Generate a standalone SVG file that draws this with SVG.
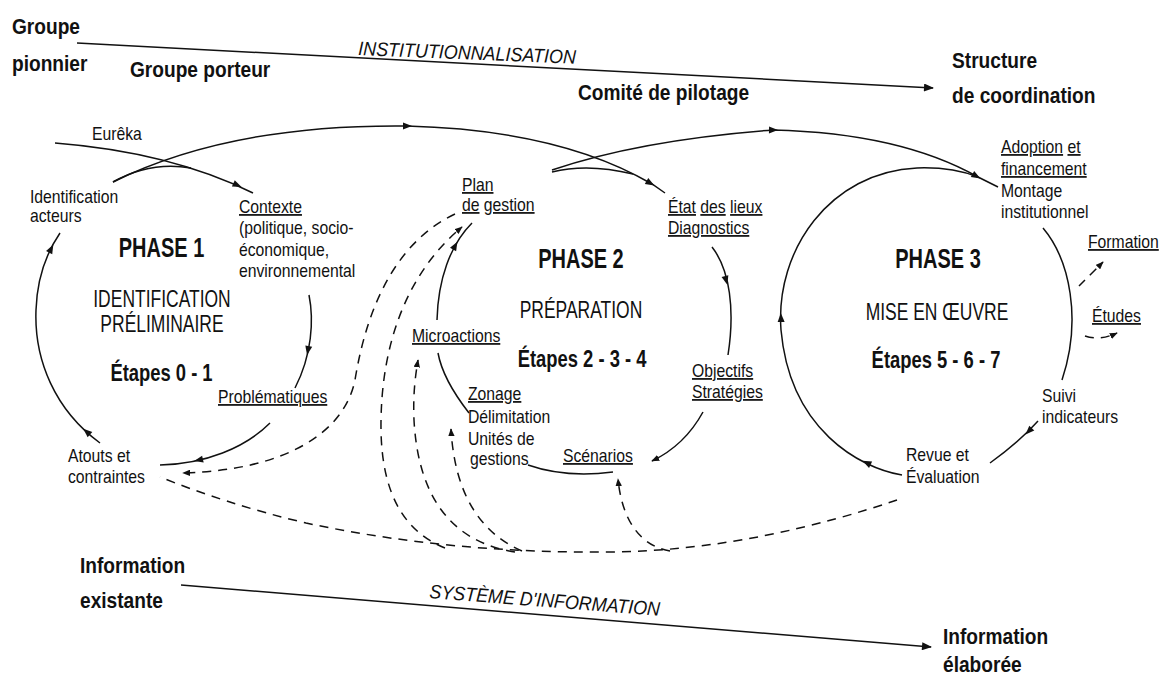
<svg xmlns="http://www.w3.org/2000/svg" width="1161" height="680" viewBox="0 0 1161 680">
<defs>
<style>
text{font-family:"Liberation Sans",Arial,sans-serif;fill:#111}
.b{font-weight:bold;font-size:22px;transform-box:fill-box;transform-origin:0 0;transform:scaleX(0.87)}
.s{font-size:17.5px;transform-box:fill-box;transform-origin:0 0;transform:scaleX(0.9)}
.i{font-style:italic;font-size:19.5px}
.u{text-decoration:underline}
.ph{font-weight:bold;font-size:27px;text-anchor:middle;transform-box:fill-box;transform-origin:50% 0;transform:scaleX(0.74)}
.sub{font-size:23px;text-anchor:middle;transform-box:fill-box;transform-origin:50% 0;transform:scaleX(0.76)}
.et{font-weight:bold;font-size:23px;text-anchor:middle;transform-box:fill-box;transform-origin:50% 0;transform:scaleX(0.8)}
.ln{fill:none;stroke:#111;stroke-width:1.5}
.da{fill:none;stroke:#111;stroke-width:1.5;stroke-dasharray:9 7}
</style>
<marker id="big" viewBox="0 0 10 8" refX="9" refY="4" markerWidth="11" markerHeight="8" orient="auto" markerUnits="userSpaceOnUse"><path d="M0,0 L10,4 L0,8 Z" fill="#111"/></marker>
<marker id="sm" viewBox="0 0 10 8" refX="9" refY="4" markerWidth="8" markerHeight="6.5" orient="auto" markerUnits="userSpaceOnUse"><path d="M0,0 L10,4 L0,8 Z" fill="#111"/></marker>
<path id="ah" d="M5,0 L-4,-3.5 L-4,3.5 Z" fill="#111"/>
</defs>
<rect width="1161" height="680" fill="#fff"/>

<g id="connectors">
<path class="ln" d="M77,43 L933,88" marker-end="url(#big)"/>
<path class="ln" d="M181,585 L931,647" marker-end="url(#big)"/>
<path class="ln" d="M55,143 Q170,152 253,193"/>
<path class="ln" d="M113,182 Q230,124 407,126 Q560,130 652,184 L665,193"/>
<path class="ln" d="M113,182 Q150,161 191,168"/>
<path class="ln" d="M552,170 Q640,140 773,130 Q900,133 978,177 L998,187"/>
<path class="ln" d="M552,172 Q588,163 633,174"/>
<path class="ln" d="M100,443 C55,410 34,360 36,310 C37,280 45,255 60,233"/>
<path class="ln" d="M309,295 C314,320 312,355 295,388"/>
<path class="ln" d="M270,423 C245,448 205,464 160,465"/>
<path class="ln" d="M712,247 C730,270 735,310 728,355"/>
<path class="ln" d="M703,412 C692,432 675,450 652,461" marker-end="url(#sm)"/>
<path class="ln" d="M528,465 Q565,478 613,472"/>
<path class="ln" d="M469,413 C455,395 442,375 438,353"/>
<path class="ln" d="M437,320 C438,280 450,245 472,223"/>
<path class="ln" d="M902,475 C860,468 790,430 781,330 C775,250 830,172 917,168 C945,167 965,172 978,177"/>
<path class="ln" d="M1043,228 C1070,260 1082,320 1062,380"/>
<path class="ln" d="M1038,421 C1030,430 1015,445 990,463"/>
<path class="da" d="M897,500 C820,526 720,551 610,552 C500,553 400,543 306,523 C250,510 200,493 160,477"/>
<path class="da" d="M670,551 C640,546 622,520 618,479" marker-end="url(#sm)"/>
<path class="da" d="M522,551 C485,535 455,500 451,429" marker-end="url(#sm)"/>
<path class="da" d="M515,552 C450,542 418,495 414,420 C413,395 415,378 418,360" marker-end="url(#sm)"/>
<path class="da" d="M445,548 C405,532 382,495 381,430 C380,340 410,270 462,227" marker-end="url(#sm)"/>
<path class="da" d="M455,214 C400,240 368,300 355,380 C345,430 290,470 183,473" marker-end="url(#sm)"/>
<path class="da" d="M1079,286 Q1090,275 1103,262" marker-end="url(#sm)"/>
<path class="da" d="M1085,336 Q1100,341 1117,333" marker-end="url(#sm)"/>
<use href="#ah" transform="translate(407,126) rotate(0.5)"/>
<use href="#ah" transform="translate(650,183) rotate(30)"/>
<use href="#ah" transform="translate(773,130) rotate(1)"/>
<use href="#ah" transform="translate(976,176) rotate(29)"/>
<use href="#ah" transform="translate(237,185) rotate(24)"/>
<use href="#ah" transform="translate(51,249) rotate(-62)"/>
<use href="#ah" transform="translate(87,432) rotate(-138)"/>
<use href="#ah" transform="translate(308,350) rotate(101)"/>
<use href="#ah" transform="translate(199,460) rotate(167)"/>
<use href="#ah" transform="translate(726,280) rotate(75)"/>
<use href="#ah" transform="translate(455,246) rotate(-61)"/>
<use href="#ah" transform="translate(781,318) rotate(-92)"/>
<use href="#ah" transform="translate(867,463) rotate(-154)"/>
<use href="#ah" transform="translate(1029,431) rotate(134)"/>
</g>

<g id="groupe-pionnier"><text class="b" x="12" y="34">Groupe</text><text class="b" x="12" y="71">pionnier</text></g>
<g id="groupe-porteur"><text class="b" x="130" y="77">Groupe porteur</text></g>
<g id="institutionnalisation"><text class="i" transform="translate(358,55) rotate(2.3) scale(0.92,1)">INSTITUTIONNALISATION</text></g>
<g id="comite-pilotage"><text class="b" x="578" y="100">Comité de pilotage</text></g>
<g id="structure-coordination"><text class="b" x="952" y="68">Structure</text><text class="b" x="952" y="103">de coordination</text></g>

<g id="eureka"><text class="s" x="92" y="140">Eurêka</text></g>
<g id="identification-acteurs"><text class="s" x="30" y="203">Identification</text><text class="s" x="30" y="222">acteurs</text></g>
<g id="contexte"><text class="s" x="239" y="213"><tspan class="u">Contexte</tspan></text><text class="s" x="239" y="234">(politique, socio-</text><text class="s" x="239" y="256">économique,</text><text class="s" x="239" y="277">environnemental</text></g>
<g id="phase1">
<text class="ph" x="161.5" y="257">PHASE 1</text>
<text class="sub" x="162" y="307">IDENTIFICATION</text>
<text class="sub" x="162" y="332">PRÉLIMINAIRE</text>
<text class="et" x="161.5" y="381">Étapes 0 - 1</text>
</g>
<g id="problematiques"><text class="s" x="218" y="403"><tspan class="u">Problématiques</tspan></text></g>
<g id="atouts-contraintes"><text class="s" x="68" y="462">Atouts et</text><text class="s" x="68" y="483">contraintes</text></g>

<g id="plan-gestion"><text class="s" x="462" y="191"><tspan class="u">Plan</tspan></text><text class="s" x="462" y="211"><tspan class="u">de</tspan> <tspan class="u">gestion</tspan></text></g>
<g id="etat-lieux"><text class="s" x="668" y="213"><tspan class="u">État</tspan> <tspan class="u">des</tspan> <tspan class="u">lieux</tspan></text><text class="s" x="668" y="234"><tspan class="u">Diagnostics</tspan></text></g>
<g id="phase2">
<text class="ph" x="581" y="268">PHASE 2</text>
<text class="sub" x="581" y="318">PRÉPARATION</text>
<text class="et" x="582" y="367">Étapes 2 - 3 - 4</text>
</g>
<g id="microactions"><text class="s" x="412" y="342"><tspan class="u">Microactions</tspan></text></g>
<g id="zonage"><text class="s" x="468" y="400"><tspan class="u">Zonage</tspan></text><text class="s" x="468" y="423">Délimitation</text><text class="s" x="468" y="445">Unités de</text><text class="s" x="470" y="465">gestions</text></g>
<g id="scenarios"><text class="s" x="563" y="462"><tspan class="u">Scénarios</tspan></text></g>
<g id="objectifs-strategies"><text class="s" x="692" y="377"><tspan class="u">Objectifs</tspan></text><text class="s" x="692" y="398"><tspan class="u">Stratégies</tspan></text></g>

<g id="adoption"><text class="s" x="1001" y="153"><tspan class="u">Adoption</tspan> <tspan class="u">et</tspan></text><text class="s" x="1001" y="175"><tspan class="u">financement</tspan></text><text class="s" x="1001" y="197">Montage</text><text class="s" x="1001" y="218">institutionnel</text></g>
<g id="phase3">
<text class="ph" x="938" y="268">PHASE 3</text>
<text class="sub" x="937" y="320">MISE EN ŒUVRE</text>
<text class="et" x="936" y="368">Étapes 5 - 6 - 7</text>
</g>
<g id="formation"><text class="s" x="1088" y="248"><tspan class="u">Formation</tspan></text></g>
<g id="etudes"><text class="s" x="1092" y="322"><tspan class="u">Études</tspan></text></g>
<g id="suivi-indicateurs"><text class="s" x="1042" y="402">Suivi</text><text class="s" x="1042" y="423">indicateurs</text></g>
<g id="revue-evaluation"><text class="s" x="906" y="461">Revue et</text><text class="s" x="906" y="483">Évaluation</text></g>

<g id="information-existante"><text class="b" x="80" y="573">Information</text><text class="b" x="80" y="608">existante</text></g>
<g id="systeme-information"><text class="i" transform="translate(429,598) rotate(4.4) scale(0.92,1)">SYSTÈME D'INFORMATION</text></g>
<g id="information-elaboree"><text class="b" x="943" y="644">Information</text><text class="b" x="943" y="672">élaborée</text></g>
</svg>
